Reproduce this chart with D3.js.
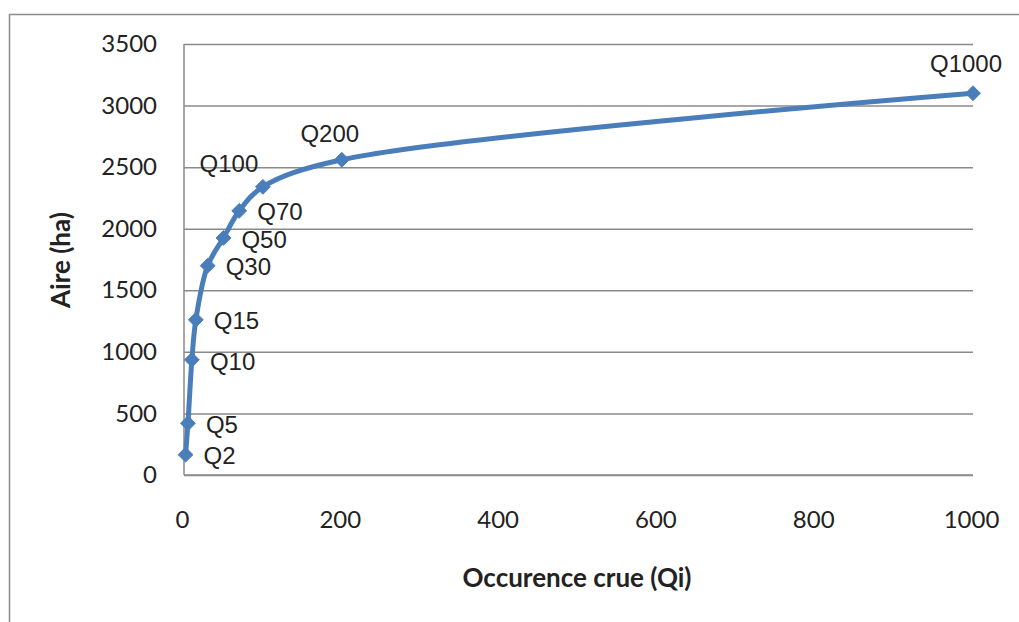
<!DOCTYPE html>
<html><head><meta charset="utf-8">
<script src="https://cdn.jsdelivr.net/npm/d3@7"></script>
<style>
html,body{margin:0;padding:0;background:#fff;}
svg{display:block;}
</style></head>
<body>
<svg id="chart" width="1019" height="622"></svg>
<script>
// ---- data ----
const labels = ["Q2","Q5","Q10","Q15","Q30","Q50","Q70","Q100","Q200","Q1000"];
const occurrence = [2,5,10,15,30,50,70,100,200,1000];
const aire = [165,420,935,1260,1700,1925,2145,2340,2560,3100];
const xTicks = [0,200,400,600,800,1000];
const yTicks = [0,500,1000,1500,2000,2500,3000,3500];
const xTitle = "Occurence crue (Qi)";
const yTitle = "Aire (ha)";

// ---- layout / style ----
const W = 1019, H = 622;
const plot = {left:184, right:973, top:44, bottom:475};
const blue = "#4a7ebb";
const grid = "#8a8a8a";
const labelOffsets = {
  right:[18,1,"start"],
  leftAbove:[-34,-23,"middle"],
  above:[-12,-26,"middle"],
  aboveFar:[-7,-30,"middle"]
};
const labelPlacement = ["right","right","right","right","right","right","right","leftAbove","above","aboveFar"];

const svg = d3.select("#chart");
// outer frame (top and left visible)
svg.append("path").attr("d",`M9.5,${H}V14.5H${W}`).attr("fill","none").attr("stroke","#8c8c8c").attr("stroke-width",1.5);

const x = d3.scaleLinear().domain([0,1000]).range([plot.left,plot.right]);
const y = d3.scaleLinear().domain([0,3500]).range([plot.bottom,plot.top]);

// gridlines
const yAxis = d3.axisLeft(y).tickValues(yTicks).tickSize(-(plot.right-plot.left)).tickPadding(27).tickFormat(d3.format("d"));
const gy = svg.append("g").attr("transform",`translate(${plot.left},0)`).call(yAxis);
gy.select(".domain").remove();
gy.selectAll(".tick line").attr("stroke",grid).attr("stroke-width",1.5);
gy.selectAll(".tick text").attr("font-family","Lato, 'Open Sans', sans-serif").attr("font-size",24).attr("fill","#222");

const xAxis = d3.axisBottom(x).tickValues(xTicks).tickSize(0).tickPadding(36).tickFormat(d3.format("d"));
const gx = svg.append("g").attr("transform",`translate(0,${plot.bottom})`).call(xAxis);
gx.select(".domain").remove();
gx.selectAll(".tick text").attr("font-family","Lato, 'Open Sans', sans-serif").attr("font-size",24).attr("fill","#222").attr("dx",-2);

// axis lines
svg.append("line").attr("x1",plot.left).attr("x2",plot.left).attr("y1",plot.top).attr("y2",plot.bottom).attr("stroke",grid).attr("stroke-width",1.5);
svg.append("line").attr("x1",plot.left).attr("x2",plot.right).attr("y1",plot.bottom).attr("y2",plot.bottom).attr("stroke",grid).attr("stroke-width",1.5);

// titles
svg.append("text").attr("x",577).attr("y",587).attr("text-anchor","middle")
  .attr("font-family","Lato, 'Open Sans', sans-serif").attr("font-weight","bold").attr("font-size",26).attr("fill","#222").text(xTitle);
svg.append("text").attr("transform","translate(70,260) rotate(-90)").attr("text-anchor","middle")
  .attr("font-family","Lato, 'Open Sans', sans-serif").attr("font-weight","bold").attr("font-size",26).attr("fill","#222").text(yTitle);

// series
const data = occurrence.map((v,i)=>({x:v,y:aire[i],label:labels[i],pos:labelPlacement[i]}));
const line = d3.line().x(d=>x(d.x)).y(d=>y(d.y)).curve(d3.curveCatmullRom.alpha(0.5));
svg.append("path").datum(data).attr("d",line).attr("fill","none").attr("stroke",blue).attr("stroke-width",5).attr("stroke-linejoin","round");

const diamond = d3.symbol().type(d3.symbolDiamond2).size(140);
svg.selectAll(".mk").data(data).join("path").attr("class","mk")
  .attr("transform",d=>`translate(${x(d.x)},${y(d.y)})`).attr("d",diamond).attr("fill",blue).attr("stroke",blue).attr("stroke-width",1);

svg.selectAll(".lbl").data(data).join("text").attr("class","lbl")
  .attr("x",d=>x(d.x)+labelOffsets[d.pos][0])
  .attr("y",d=>y(d.y)+labelOffsets[d.pos][1])
  .attr("dy","0.36em")
  .attr("text-anchor",d=>labelOffsets[d.pos][2])
  .attr("font-family","'Liberation Sans', Arial, sans-serif").attr("font-size",24).attr("fill","#222")
  .text(d=>d.label);
</script>
</body></html>
